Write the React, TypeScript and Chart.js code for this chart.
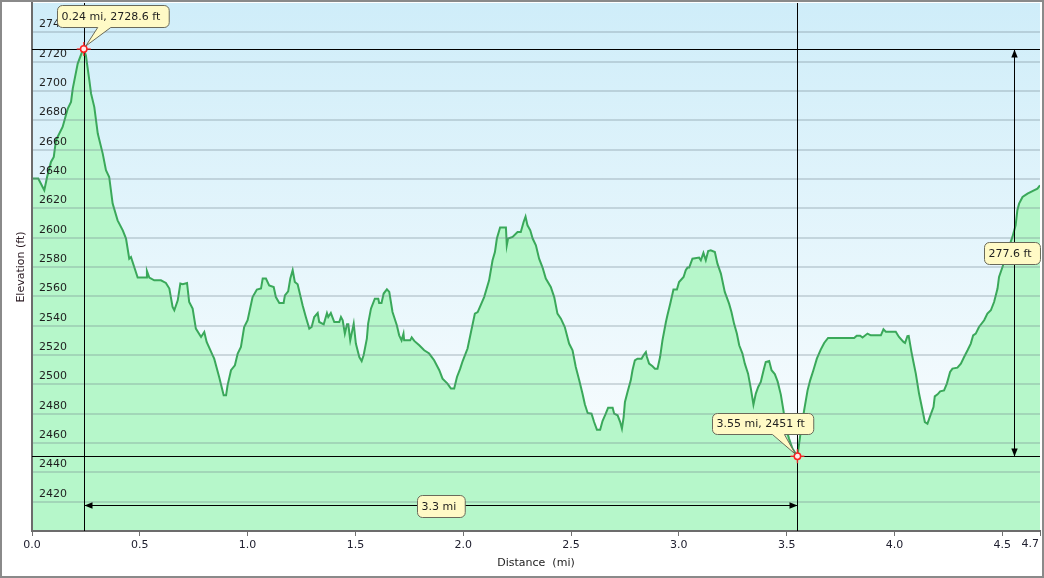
import React, { useEffect, useRef } from 'react';
import { Chart, registerables } from 'chart.js';

Chart.register(...registerables);

// ---- data (distance in miles, elevation in feet) ----
const DIST = [
  0, 0.029, 0.057, 0.07, 0.088, 0.101, 0.111, 0.142, 0.166, 0.181, 0.189, 0.212, 0.235, 0.24, 0.25, 0.266, 0.274,
  0.289, 0.305, 0.328, 0.343, 0.358, 0.374, 0.397, 0.421, 0.436, 0.451, 0.459, 0.49, 0.529, 0.533, 0.544, 0.567,
  0.598, 0.621, 0.637, 0.652, 0.66, 0.676, 0.688, 0.699, 0.719, 0.729, 0.745, 0.76, 0.784, 0.799, 0.81, 0.838,
  0.845, 0.868, 0.889, 0.9, 0.907, 0.923, 0.941, 0.954, 0.969, 0.984, 1.0, 1.023, 1.043, 1.062, 1.07, 1.085, 1.1,
  1.121, 1.131, 1.147, 1.167, 1.173, 1.188, 1.198, 1.209, 1.219, 1.232, 1.255, 1.27, 1.286, 1.297, 1.309, 1.325,
  1.332, 1.353, 1.368, 1.374, 1.386, 1.402, 1.425, 1.433, 1.441, 1.451, 1.461, 1.467, 1.476, 1.492, 1.502, 1.518,
  1.529, 1.538, 1.553, 1.559, 1.572, 1.59, 1.606, 1.61, 1.621, 1.631, 1.646, 1.657, 1.672, 1.692, 1.703, 1.714,
  1.723, 1.726, 1.754, 1.761, 1.773, 1.796, 1.819, 1.842, 1.865, 1.889, 1.904, 1.927, 1.943, 1.958, 1.971, 1.986,
  1.997, 2.02, 2.036, 2.054, 2.067, 2.097, 2.12, 2.136, 2.147, 2.156, 2.171, 2.198, 2.202, 2.208, 2.229, 2.252,
  2.267, 2.28, 2.289, 2.298, 2.311, 2.322, 2.337, 2.352, 2.368, 2.383, 2.406, 2.422, 2.437, 2.453, 2.471, 2.491,
  2.507, 2.522, 2.538, 2.553, 2.564, 2.577, 2.595, 2.607, 2.62, 2.635, 2.646, 2.661, 2.672, 2.693, 2.7, 2.716,
  2.728, 2.736, 2.744, 2.75, 2.762, 2.777, 2.785, 2.796, 2.808, 2.827, 2.836, 2.847, 2.852, 2.862, 2.878, 2.889,
  2.901, 2.913, 2.924, 2.94, 2.947, 2.96, 2.975, 2.991, 3.001, 3.022, 3.032, 3.04, 3.048, 3.063, 3.094, 3.102,
  3.114, 3.125, 3.136, 3.148, 3.167, 3.179, 3.195, 3.213, 3.233, 3.244, 3.256, 3.269, 3.28, 3.295, 3.306, 3.321,
  3.334, 3.346, 3.357, 3.368, 3.38, 3.393, 3.403, 3.419, 3.43, 3.445, 3.458, 3.473, 3.485, 3.496, 3.511, 3.527,
  3.55, 3.562, 3.581, 3.597, 3.609, 3.624, 3.64, 3.658, 3.674, 3.692, 3.813, 3.825, 3.841, 3.852, 3.875, 3.89,
  3.937, 3.949, 3.96, 4.006, 4.021, 4.042, 4.049, 4.06, 4.066, 4.079, 4.088, 4.099, 4.114, 4.13, 4.141, 4.153,
  4.165, 4.181, 4.187, 4.2, 4.212, 4.23, 4.243, 4.258, 4.269, 4.292, 4.308, 4.323, 4.339, 4.354, 4.365, 4.377,
  4.392, 4.416, 4.431, 4.447, 4.462, 4.478, 4.485, 4.501, 4.516, 4.531, 4.547, 4.562, 4.57, 4.578, 4.594, 4.617,
  4.64, 4.663, 4.675,
];

const ELEV = [
  2640.3, 2640.3, 2632.3, 2641.4, 2651.6, 2655.0, 2666.4, 2675.5, 2688.0, 2692.5, 2701.6, 2718.7, 2727.7, 2728.6,
  2724.3, 2707.3, 2698.2, 2689.0, 2671.0, 2657.3, 2646.0, 2641.4, 2623.2, 2611.8, 2605.0, 2599.4, 2585.7, 2586.8,
  2572.8, 2572.8, 2577.3, 2572.8, 2570.9, 2570.9, 2569.1, 2565.3, 2552.7, 2550.5, 2557.3, 2568.7, 2568.2, 2569.1,
  2556.1, 2551.6, 2538.0, 2532.3, 2535.7, 2528.9, 2519.8, 2517.5, 2505.0, 2492.5, 2492.5, 2499.3, 2509.6, 2513.0,
  2521.0, 2525.5, 2539.1, 2543.7, 2559.5, 2564.6, 2565.3, 2572.1, 2572.1, 2567.5, 2566.4, 2559.5, 2555.5, 2555.5,
  2560.7, 2563.4, 2572.1, 2577.8, 2569.8, 2568.2, 2553.9, 2545.9, 2538.0, 2539.1, 2545.9, 2548.6, 2542.5, 2540.9,
  2548.6, 2545.9, 2548.6, 2542.5, 2542.5, 2545.9, 2543.7, 2534.6, 2540.9, 2540.9, 2530.0, 2541.4, 2527.8, 2518.6,
  2515.9, 2519.8, 2531.2, 2541.4, 2551.6, 2558.4, 2558.4, 2555.5, 2555.5, 2561.9, 2564.8, 2563.0, 2549.3, 2540.3,
  2533.4, 2530.0, 2534.6, 2530.0, 2530.0, 2532.0, 2529.6, 2526.6, 2523.2, 2521.0, 2516.4, 2509.6, 2503.9, 2500.5,
  2497.1, 2497.1, 2505.0, 2510.7, 2515.7, 2524.4, 2535.7, 2548.2, 2549.3, 2559.5, 2570.9, 2584.6, 2590.2, 2599.4,
  2606.9, 2606.9, 2594.8, 2599.4, 2600.5, 2603.9, 2603.9, 2610.7, 2614.4, 2608.4, 2605.0, 2599.4, 2594.8, 2585.7,
  2579.6, 2572.1, 2566.4, 2559.5, 2548.2, 2544.8, 2539.1, 2527.8, 2523.2, 2511.8, 2502.7, 2493.7, 2486.4, 2480.5,
  2480.0, 2474.3, 2469.1, 2469.1, 2475.0, 2480.0, 2484.1, 2484.1, 2480.0, 2478.9, 2474.3, 2469.8, 2477.7, 2488.0,
  2494.8, 2502.7, 2509.6, 2516.4, 2517.5, 2517.5, 2519.8, 2522.0, 2518.6, 2514.1, 2512.3, 2510.7, 2510.7, 2518.6,
  2530.0, 2542.5, 2547.1, 2555.0, 2564.6, 2564.6, 2569.8, 2573.2, 2577.8, 2579.6, 2579.6, 2585.7, 2586.4, 2584.6,
  2589.6, 2584.6, 2590.9, 2591.4, 2590.2, 2582.3, 2575.5, 2563.0, 2555.0, 2549.3, 2541.4, 2534.6, 2526.6, 2521.0,
  2514.1, 2507.3, 2497.1, 2486.2, 2493.7, 2498.2, 2501.6, 2509.6, 2515.2, 2515.9, 2509.6, 2507.0, 2502.0, 2493.0,
  2482.3, 2470.9, 2463.0, 2456.2, 2451.0, 2464.1, 2482.3, 2495.9, 2502.7, 2509.6, 2517.5, 2523.7, 2528.2, 2531.6,
  2531.6, 2533.2, 2533.2, 2531.9, 2534.6, 2533.4, 2533.4, 2537.5, 2535.9, 2535.9, 2532.3, 2528.9, 2528.2, 2532.9,
  2533.0, 2522.0, 2515.2, 2507.3, 2493.7, 2482.3, 2474.3, 2473.2, 2478.2, 2484.5, 2491.8, 2493.2, 2495.2, 2495.9,
  2500.5, 2508.4, 2510.7, 2511.4, 2514.1, 2518.6, 2523.2, 2527.8, 2533.4, 2534.6, 2539.1, 2543.7, 2548.2, 2550.5,
  2556.1, 2565.3, 2573.2, 2580.0, 2586.8, 2593.6, 2600.5, 2608.4, 2618.7, 2623.2, 2627.7, 2630.0, 2631.8, 2633.4,
  2635.7,
];

// ---- axes ----
const X_TICKS = [0, 0.5, 1, 1.5, 2, 2.5, 3, 3.5, 4, 4.5];
const X_MAX = 4.675;
const X_MAX_LABEL = '4.7';
const Y_MIN = 2400;
const Y_MAX = 2760;
const Y_STEP = 20;
const X_TITLE = 'Distance  (mi)';
const Y_TITLE = 'Elevation (ft)';

// ---- annotations ----
const MARK_DIST = [0.24, 3.55];
const MARK_ELEV = [2728.6, 2451];
const MARK_LABELS = ['0.24 mi, 2728.6 ft', '3.55 mi, 2451 ft'];
const SPAN_X_LABEL = '3.3 mi';
const SPAN_Y_LABEL = '277.6 ft';

const FONT_FAMILY = '"DejaVu Sans", Verdana, sans-serif';
const FONT = '11px ' + FONT_FAMILY;
const BOX_FILL = '#fffac6';
const BOX_EDGE = '#6a6a5a';
const TEXT_COLOR = '#1e1e1e';

function roundRectPath(ctx: CanvasRenderingContext2D, l: number, t: number, w: number, h: number, r: number) {
  const R = l + w, B = t + h;
  ctx.beginPath();
  ctx.moveTo(l + r, t);
  ctx.arcTo(R, t, R, B, r);
  ctx.arcTo(R, B, l, B, r);
  ctx.arcTo(l, B, l, t, r);
  ctx.arcTo(l, t, R, t, r);
  ctx.closePath();
}

function calloutPath(ctx: CanvasRenderingContext2D, l: number, t: number, w: number, h: number, r: number,
  b1: number, b2: number, tx: number, ty: number) {
  const R = l + w, B = t + h;
  ctx.beginPath();
  ctx.moveTo(l + r, t);
  ctx.arcTo(R, t, R, B, r);
  ctx.arcTo(R, B, l, B, r);
  ctx.lineTo(b2, B);
  ctx.lineTo(tx, ty);
  ctx.lineTo(b1, B);
  ctx.arcTo(l, B, l, t, r);
  ctx.arcTo(l, t, R, t, r);
  ctx.closePath();
}

function paintBox(ctx: CanvasRenderingContext2D, text: string, l: number, t: number, h: number) {
  ctx.fillStyle = BOX_FILL;
  ctx.fill();
  ctx.strokeStyle = BOX_EDGE;
  ctx.lineWidth = 1;
  ctx.stroke();
  ctx.fillStyle = TEXT_COLOR;
  ctx.textAlign = 'left';
  ctx.textBaseline = 'middle';
  ctx.fillText(text, l + 4, t + h / 2 + 0.5);
}

function labelBox(ctx: CanvasRenderingContext2D, text: string, cx: number, cy: number) {
  const w = ctx.measureText(text).width + 13;
  const h = 22;
  const l = Math.round(cx - w / 2) + 0.5;
  const t = Math.round(cy - h / 2) + 0.5;
  roundRectPath(ctx, l, t, w, h, 5);
  paintBox(ctx, text, l, t, h);
}

function marker(ctx: CanvasRenderingContext2D, x: number, y: number) {
  ctx.strokeStyle = 'rgba(255,50,50,0.85)';
  ctx.lineWidth = 1.5;
  ctx.beginPath();
  ctx.moveTo(x - 7, y); ctx.lineTo(x - 3, y);
  ctx.moveTo(x + 3, y); ctx.lineTo(x + 7, y);
  ctx.moveTo(x, y - 7); ctx.lineTo(x, y - 3);
  ctx.moveTo(x, y + 3); ctx.lineTo(x, y + 7);
  ctx.stroke();
  ctx.beginPath();
  ctx.arc(x, y, 3.2, 0, Math.PI * 2);
  ctx.fillStyle = '#ffe8e8';
  ctx.fill();
  ctx.strokeStyle = '#ff2020';
  ctx.stroke();
}

function head(ctx: CanvasRenderingContext2D, x: number, y: number, dx: number, dy: number) {
  const L = 8, W = 3.2;
  const px = -dy, py = dx;
  ctx.beginPath();
  ctx.moveTo(x, y);
  ctx.lineTo(x - dx * L + px * W, y - dy * L + py * W);
  ctx.lineTo(x - dx * L - px * W, y - dy * L - py * W);
  ctx.closePath();
  ctx.fillStyle = '#000';
  ctx.fill();
}

const annotPlugin = {
  id: 'elevAnnot',
  beforeDraw(chart: any) {
    const { ctx, chartArea: a } = chart;
    ctx.save();
    const g = ctx.createLinearGradient(0, a.top, 0, a.bottom);
    g.addColorStop(0, '#cfedf9');
    g.addColorStop(1, '#ffffff');
    ctx.fillStyle = g;
    ctx.fillRect(a.left, a.top, a.right - a.left, a.bottom - a.top);
    ctx.restore();
  },
  afterDraw(chart: any) {
    const { ctx, chartArea: a, scales } = chart;
    const xs = scales.x, ys = scales.y;
    const pts = MARK_DIST.map((d, i) => ({ x: xs.getPixelForValue(d), y: ys.getPixelForValue(MARK_ELEV[i]) }));
    ctx.save();
    ctx.font = FONT;

    // crosshair lines
    ctx.strokeStyle = '#000';
    ctx.lineWidth = 1;
    ctx.beginPath();
    for (const p of pts) {
      const vx = Math.round(p.x) + 0.5, hy = Math.round(p.y) + 0.5;
      ctx.moveTo(vx, a.top); ctx.lineTo(vx, a.bottom);
      ctx.moveTo(a.left, hy); ctx.lineTo(a.right, hy);
    }
    ctx.stroke();

    // horizontal span arrow
    const ay = Math.round(a.bottom - 26) + 0.5;
    const x1 = Math.round(pts[0].x) + 0.5, x2 = Math.round(pts[1].x) + 0.5;
    ctx.beginPath(); ctx.moveTo(x1, ay); ctx.lineTo(x2, ay); ctx.stroke();
    head(ctx, x1, ay, -1, 0);
    head(ctx, x2, ay, 1, 0);

    // vertical span arrow
    const ax = Math.round(a.right - 26) + 0.5;
    const y1 = Math.round(pts[0].y) + 0.5, y2 = Math.round(pts[1].y) + 0.5;
    ctx.strokeStyle = '#000';
    ctx.beginPath(); ctx.moveTo(ax, y1); ctx.lineTo(ax, y2); ctx.stroke();
    head(ctx, ax, y1, 0, -1);
    head(ctx, ax, y2, 0, 1);

    // markers
    for (const p of pts) marker(ctx, p.x, p.y);

    // callouts
    {
      const p = pts[0];
      const text = MARK_LABELS[0];
      const w = ctx.measureText(text).width + 13, h = 22;
      const l = Math.round(p.x - 27) + 0.5, t = Math.round(p.y - 44) + 0.5;
      calloutPath(ctx, l, t, w, h, 5, p.x + 14, p.x + 27, p.x + 2, p.y - 3);
      paintBox(ctx, text, l, t, h);
    }
    {
      const p = pts[1];
      const text = MARK_LABELS[1];
      const w = ctx.measureText(text).width + 13, h = 21;
      const l = Math.round(p.x - 85) + 0.5, t = Math.round(p.y - 43) + 0.5;
      calloutPath(ctx, l, t, w, h, 5, p.x - 25, p.x - 13, p.x - 2, p.y - 2);
      paintBox(ctx, text, l, t, h);
    }

    // span labels
    labelBox(ctx, SPAN_X_LABEL, (x1 + x2) / 2, ay);
    labelBox(ctx, SPAN_Y_LABEL, ax - 3, (y1 + y2) / 2);

    // last x tick label, right-aligned at the axis end
    ctx.fillStyle = '#202030';
    ctx.textAlign = 'right';
    ctx.textBaseline = 'top';
    ctx.fillText(X_MAX_LABEL, xs.getPixelForValue(X_MAX) - 1, xs.top + 8);

    ctx.restore();
  },
};

export default function App() {
  const ref = useRef<HTMLCanvasElement | null>(null);

  useEffect(() => {
    if (!ref.current) return;
    const data = DIST.map((d, i) => ({ x: d, y: ELEV[i] }));
    const chart = new Chart(ref.current, {
      type: 'line',
      data: {
        datasets: [
          {
            data,
            borderColor: '#3aa85a',
            backgroundColor: '#b6f7ca',
            borderWidth: 2,
            fill: 'start',
            pointRadius: 0,
            pointHoverRadius: 0,
            tension: 0,
          },
        ],
      },
      options: {
        responsive: false,
        animation: false,
        events: [],
        layout: { padding: { left: 0, right: 2, top: 1, bottom: 0 } },
        plugins: { legend: { display: false }, tooltip: { enabled: false } },
        scales: {
          x: {
            type: 'linear',
            min: 0,
            max: X_MAX,
            afterBuildTicks: (scale: any) => {
              scale.ticks = X_TICKS.concat([X_MAX]).map((v) => ({ value: v }));
            },
            afterFit: (scale: any) => {
              scale.height = 45;
              scale.paddingLeft = 0;
              scale.paddingRight = 0;
            },
            ticks: {
              autoSkip: false,
              maxRotation: 0,
              padding: 3,
              z: 1,
              color: '#202030',
              font: { family: FONT_FAMILY, size: 11 },
              callback: (v: any) => (Number(v) === X_MAX ? '' : Number(v).toFixed(1)),
            },
            grid: { drawOnChartArea: false, drawTicks: true, tickLength: 5, color: '#707070', lineWidth: 1, z: 1 },
            border: { display: true, color: '#6c6c6c', width: 2, z: 1 },
            title: {
              display: true,
              text: X_TITLE,
              color: '#222',
              font: { family: FONT_FAMILY, size: 11 },
              padding: { top: 0, bottom: 6 },
            },
          },
          y: {
            type: 'linear',
            min: Y_MIN,
            max: Y_MAX,
            afterFit: (scale: any) => {
              scale.width = 30;
              scale.paddingTop = 0;
              scale.paddingBottom = 0;
            },
            ticks: {
              stepSize: Y_STEP,
              mirror: true,
              padding: 7,
              labelOffset: -8,
              z: 1,
              color: TEXT_COLOR,
              font: { family: FONT_FAMILY, size: 11 },
              callback: (v: any) => (Number(v) === Y_MIN || Number(v) === Y_MAX ? '' : String(v)),
            },
            grid: {
              drawTicks: false,
              lineWidth: 2,
              z: 1,
              color: (c: any) =>
                c.tick && (c.tick.value === Y_MIN || c.tick.value === Y_MAX) ? 'rgba(0,0,0,0)' : 'rgba(110,130,140,0.28)',
            },
            border: { display: true, color: '#6c6c6c', width: 2, z: 1 },
            title: {
              display: true,
              text: Y_TITLE,
              color: '#2a1a22',
              font: { family: FONT_FAMILY, size: 11 },
              padding: { top: 13, bottom: 0 },
            },
          },
        },
      },
      plugins: [annotPlugin],
    });
    return () => chart.destroy();
  }, []);

  return (
    <div
      style={{
        position: 'absolute',
        left: 0,
        top: 0,
        width: 1040,
        height: 574,
        border: '2px solid #8a8a8a',
        background: '#fff',
      }}
    >
      <canvas ref={ref} width={1040} height={574} style={{ display: 'block', width: 1040, height: 574 }} />
    </div>
  );
}
